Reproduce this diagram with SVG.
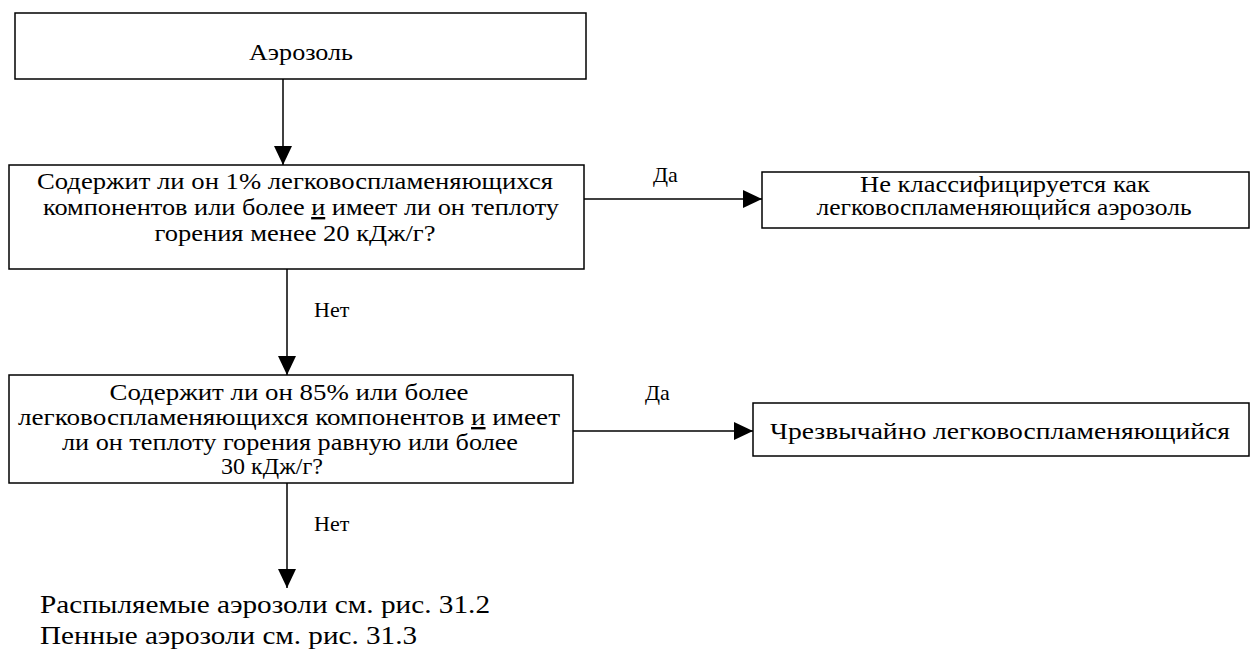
<svg xmlns="http://www.w3.org/2000/svg" width="1250" height="660" viewBox="0 0 1250 660">
<style>
.box{fill:#fff;stroke:#000;stroke-width:1.5}
.m{font-size:24px}
.s{font-size:22px}
.c{stroke:#000;stroke-width:1.5;fill:none}
.u{text-decoration:underline}
</style>
<defs>
<marker id="ah" markerUnits="userSpaceOnUse" markerWidth="19" markerHeight="18" viewBox="0 0 19 18" refX="19" refY="9" orient="auto"><path d="M0,0 L19,9 L0,18 Z" fill="#000"/></marker>
</defs>
<rect width="1250" height="660" fill="#fff"/>
<g font-family="Liberation Serif, Times New Roman, serif" fill="#000">
<g id="connectors">
<path class="c" d="M283,79 V165" marker-end="url(#ah)"/>
<path class="c" d="M584,199 H762" marker-end="url(#ah)"/>
<path class="c" d="M287,269 V375" marker-end="url(#ah)"/>
<path class="c" d="M573,431 H753" marker-end="url(#ah)"/>
<path class="c" d="M287,483 V588" marker-end="url(#ah)"/>
<text class="s" x="653" y="182">Да</text>
<text class="s" x="314" y="317">Нет</text>
<text class="s" x="645" y="400">Да</text>
<text class="s" x="314" y="531">Нет</text>
</g>
<g id="n1">
<rect class="box" x="15" y="13" width="571" height="66"/>
<text class="m" x="301" y="60" text-anchor="middle" textLength="104" lengthAdjust="spacingAndGlyphs">Аэрозоль</text>
</g>
<g id="n2">
<rect class="box" x="9" y="165" width="575" height="104"/>
<text class="m" x="295" y="189" text-anchor="middle" textLength="516" lengthAdjust="spacingAndGlyphs">Содержит ли он 1% легковоспламеняющихся</text>
<text class="m" x="301" y="215" text-anchor="middle" textLength="516" lengthAdjust="spacingAndGlyphs">компонентов или более <tspan class="u">и</tspan> имеет ли он теплоту</text>
<text class="m" x="295" y="241" text-anchor="middle" textLength="281" lengthAdjust="spacingAndGlyphs">горения менее 20 кДж/г?</text>
</g>
<g id="n3">
<rect class="box" x="762" y="172" width="487" height="56"/>
<text class="m" x="1005" y="192" text-anchor="middle" textLength="290" lengthAdjust="spacingAndGlyphs">Не классифицируется как</text>
<text class="m" x="1004" y="215" text-anchor="middle" textLength="375" lengthAdjust="spacingAndGlyphs">легковоспламеняющийся аэрозоль</text>
</g>
<g id="n4">
<rect class="box" x="9" y="375" width="564" height="108"/>
<text class="m" x="289" y="400" text-anchor="middle" textLength="359" lengthAdjust="spacingAndGlyphs">Содержит ли он 85% или более</text>
<text class="m" x="289" y="425" text-anchor="middle" textLength="542" lengthAdjust="spacingAndGlyphs">легковоспламеняющихся компонентов <tspan class="u">и</tspan> имеет</text>
<text class="m" x="290" y="450" text-anchor="middle" textLength="456" lengthAdjust="spacingAndGlyphs">ли он теплоту горения равную или более</text>
<text class="m" x="272" y="474" text-anchor="middle">30 кДж/г?</text>
</g>
<g id="n5">
<rect class="box" x="753" y="403" width="496" height="53"/>
<text class="m" x="1000" y="439" text-anchor="middle" textLength="460" lengthAdjust="spacingAndGlyphs">Чрезвычайно легковоспламеняющийся</text>
</g>
<g id="n6">
<text x="40" y="613" font-size="25" textLength="450" lengthAdjust="spacingAndGlyphs">Распыляемые аэрозоли см. рис. 31.2</text>
<text x="40" y="644" font-size="25" textLength="377" lengthAdjust="spacingAndGlyphs">Пенные аэрозоли см. рис. 31.3</text>
</g>
</g>
</svg>
